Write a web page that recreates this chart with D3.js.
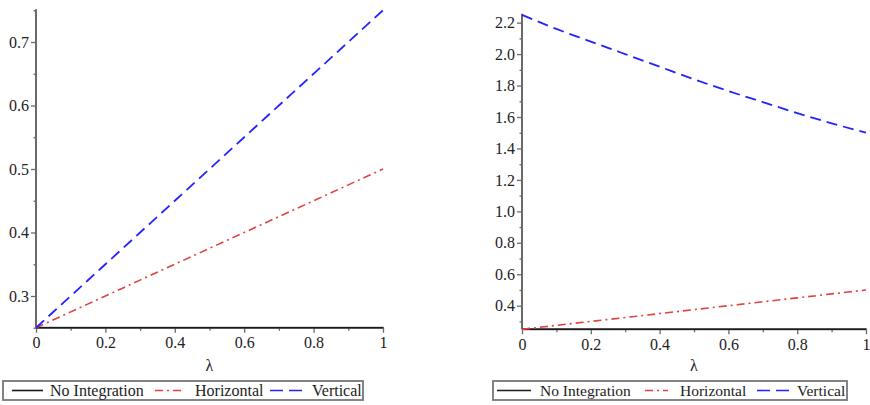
<!DOCTYPE html>
<html>
<head>
<meta charset="utf-8">
<script src="https://cdn.jsdelivr.net/npm/d3@7/dist/d3.min.js"></script>
<style>
  html, body { margin: 0; padding: 0; background: #fff; }
  svg { display: block; }
</style>
</head>
<body>
<svg id="chart" width="870" height="405"></svg>
<script>
// λ sample points shared by both panels
const lambda = [0, 0.1, 0.2, 0.3, 0.4, 0.5, 0.6, 0.7, 0.8, 0.9, 1];

// Left panel series
const leftNoIntegration = [0.25, 0.25, 0.25, 0.25, 0.25, 0.25, 0.25, 0.25, 0.25, 0.25, 0.25];
const leftHorizontal    = [0.25, 0.275, 0.3, 0.325, 0.35, 0.375, 0.4, 0.425, 0.45, 0.475, 0.5];
const leftVertical      = [0.25, 0.3, 0.35, 0.4, 0.45, 0.5, 0.55, 0.6, 0.65, 0.7, 0.75];

// Right panel series
const rightNoIntegration = [0.25, 0.25, 0.25, 0.25, 0.25, 0.25, 0.25, 0.25, 0.25, 0.25, 0.25];
const rightHorizontal    = [0.25, 0.275, 0.3, 0.325, 0.35, 0.375, 0.4, 0.425, 0.45, 0.475, 0.5];
const rightVertical      = [2.25, 2.16, 2.08, 2.0, 1.92, 1.84, 1.765, 1.695, 1.625, 1.56, 1.5];

// Tick labels
const xTicks = [0, 0.2, 0.4, 0.6, 0.8, 1];
const xMinor = [0.1, 0.3, 0.5, 0.7, 0.9];
const leftYTicks = [0.3, 0.4, 0.5, 0.6, 0.7];
const leftYMinor = [0.25, 0.35, 0.45, 0.55, 0.65, 0.75];
const rightYTicks = [0.4, 0.6, 0.8, 1.0, 1.2, 1.4, 1.6, 1.8, 2.0, 2.2];
const rightYMinor = [0.3, 0.5, 0.7, 0.9, 1.1, 1.3, 1.5, 1.7, 1.9, 2.1];

const legendItems = ["No Integration", "Horizontal", "Vertical"];

const FONT = "'Liberation Serif', 'Times New Roman', 'DejaVu Serif', serif";

const svg = d3.select("#chart").attr("font-family", FONT);

const styles = {
  noint: { color: "#1a1a1a", dash: null, width: 1.6 },
  horiz: { color: "#e0423f", dash: "8,4,2,4", width: 1.6 },
  vert:  { color: "#2323ff", dash: "11,6", width: 1.8 }
};

function panel(opt) {
  const x = d3.scaleLinear().domain([0, 1]).range([opt.x0, opt.x1]);
  const y = d3.scaleLinear().domain(opt.yDomain).range([opt.yBottom, opt.yTop]);
  const g = svg.append("g");

  // y axis: minor then major ticks
  const yMinorAxis = g.append("g").attr("transform", `translate(${opt.x0},0)`)
    .call(d3.axisLeft(y).tickValues(opt.yMinor).tickSize(2.5).tickFormat(""));
  const yAxis = g.append("g").attr("transform", `translate(${opt.x0},0)`)
    .call(d3.axisLeft(y).tickValues(opt.yTicks).tickSize(5).tickPadding(2)
      .tickFormat(opt.yFormat));
  // x axis
  const xMinorAxis = g.append("g").attr("transform", `translate(0,${opt.yBottom})`)
    .call(d3.axisBottom(x).tickValues(xMinor).tickSize(3).tickFormat(""));
  const xAxis = g.append("g").attr("transform", `translate(0,${opt.yBottom})`)
    .call(d3.axisBottom(x).tickValues(xTicks).tickSize(5).tickPadding(4)
      .tickFormat(d => d === 0 || d === 1 ? String(d) : d3.format(".1f")(d)));

  [yMinorAxis, yAxis, xMinorAxis, xAxis].forEach(a => {
    a.attr("font-family", FONT).attr("font-size", 16);
    a.select(".domain").attr("stroke", "#6a6a6a").attr("stroke-width", 2);
    a.selectAll(".tick line").attr("stroke", "#6a6a6a").attr("stroke-width", 1.3);
    a.selectAll("text").attr("fill", "#222");
  });
  yMinorAxis.select(".domain").remove();
  xMinorAxis.select(".domain").remove();
  yAxis.select(".domain").attr("d", `M0,${opt.yBottom}V${opt.yTop - 1}`);
  xAxis.select(".domain").attr("d", `M${opt.x0},0H${opt.x1 + 1}`);

  const line = d3.line().curve(d3.curveMonotoneX)
    .x((d, i) => x(lambda[i])).y(d => y(d));
  const series = [
    [opt.noint, styles.noint],
    [opt.horiz, styles.horiz],
    [opt.vert, styles.vert]
  ];
  series.forEach(([vals, st]) => {
    g.append("path").datum(vals)
      .attr("d", line)
      .attr("fill", "none")
      .attr("stroke", st.color)
      .attr("stroke-width", st.width)
      .attr("stroke-dasharray", st.dash);
  });

  // axis title
  g.append("text").attr("x", (opt.x0 + opt.x1) / 2).attr("y", 371)
    .attr("text-anchor", "middle").attr("font-size", 16).attr("fill", "#222").text("λ");

  // legend
  const L = opt.legend;
  const lg = g.append("g");
  lg.append("rect").attr("x", L.x).attr("y", 381).attr("width", L.w).attr("height", 19)
    .attr("fill", "#fff").attr("stroke", "#777").attr("stroke-width", 1.8);
  const keys = [styles.noint, styles.horiz, styles.vert];
  keys.forEach((st, i) => {
    const s = L.samples[i];
    lg.append("line").attr("x1", s[0]).attr("x2", s[1]).attr("y1", 390.5).attr("y2", 390.5)
      .attr("stroke", st.color).attr("stroke-width", 1.6)
      .attr("stroke-dasharray", i === 1 ? "8,4,2,4" : i === 2 ? "13,6" : null);
    lg.append("text").attr("x", L.labels[i]).attr("y", 396)
      .attr("font-size", L.fs).attr("fill", "#222").text(legendItems[i]);
  });
}

panel({
  x0: 36, x1: 383, yTop: 10.25, yBottom: 327.75, yDomain: [0.25, 0.75],
  yTicks: leftYTicks, yMinor: leftYMinor, yFormat: d3.format(".1f"),
  noint: leftNoIntegration, horiz: leftHorizontal, vert: leftVertical,
  legend: { x: 3, w: 360, fs: 16,
    samples: [[12, 43], [155, 181], [270, 305]],
    labels: [50, 195, 312] }
});

panel({
  x0: 522, x1: 866, yTop: 14.8, yBottom: 329.3, yDomain: [0.25, 2.25],
  yTicks: rightYTicks, yMinor: rightYMinor, yFormat: d3.format(".1f"),
  noint: rightNoIntegration, horiz: rightHorizontal, vert: rightVertical,
  legend: { x: 493, w: 354, fs: 15.5,
    samples: [[497, 531], [645, 668], [757, 790]],
    labels: [540, 680, 797] }
});
</script>
</body>
</html>
